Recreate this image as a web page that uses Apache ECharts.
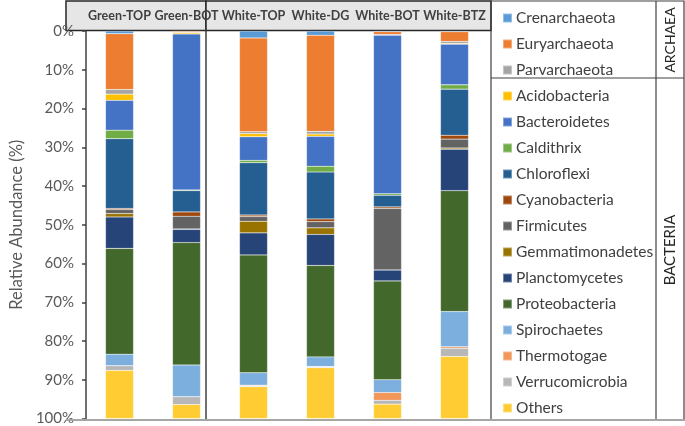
<!DOCTYPE html>
<html>
<head>
<meta charset="utf-8">
<script src="https://cdn.jsdelivr.net/npm/echarts@6/dist/echarts.min.js"></script>
<style>html,body{margin:0;padding:0;background:#fff;}#c{width:685px;height:426px;}</style>
</head>
<body>
<div id="c"></div>
<script>
var categories = ['Green-TOP', 'Green-BOT', 'White-TOP', 'White-DG', 'White-BOT', 'White-BTZ'];
var yTicks = [0, 10, 20, 30, 40, 50, 60, 70, 80, 90, 100];

var crenarchaeota    = [0.7, 0.1, 1.8, 1.1, 0.2, 0.2];
var euryarchaeota    = [14.4, 0.3, 24.2, 24.8, 0.7, 2.5];
var parvarchaeota    = [1.2, 0.1, 0.5, 0.7, 0.2, 0.5];
var acidobacteria    = [1.6, 0.3, 0.8, 0.6, 0.0, 0.2];
var bacteroidetes    = [7.7, 40.2, 6.1, 7.7, 40.9, 10.5];
var caldithrix       = [2.2, 0.2, 0.6, 1.5, 0.4, 1.1];
var chloroflexi      = [18.0, 5.5, 13.5, 12.1, 3.0, 11.9];
var cyanobacteria    = [0.3, 1.1, 0.4, 0.7, 0.4, 1.0];
var firmicutes       = [1.0, 3.3, 1.2, 1.6, 15.9, 2.3];
var gemmatimonadetes = [0.9, 0.1, 3.0, 1.7, 0.0, 0.3];
var planctomycetes   = [8.1, 3.4, 5.7, 8.0, 2.8, 10.7];
var proteobacteria   = [27.3, 31.6, 30.4, 23.6, 25.5, 31.2];
var spirochaetes     = [3.0, 8.2, 3.2, 2.5, 3.3, 9.1];
var thermotogae      = [0.0, 0.0, 0.2, 0.1, 2.0, 0.4];
var verrucomicrobia  = [1.2, 2.0, 0.2, 0.2, 1.0, 2.1];
var others           = [12.4, 3.6, 8.2, 13.1, 3.7, 16.0];

var seriesNames = ['Crenarchaeota', 'Euryarchaeota', 'Parvarchaeota', 'Acidobacteria', 'Bacteroidetes', 'Caldithrix', 'Chloroflexi', 'Cyanobacteria', 'Firmicutes', 'Gemmatimonadetes', 'Planctomycetes', 'Proteobacteria', 'Spirochaetes', 'Thermotogae', 'Verrucomicrobia', 'Others'];
var seriesData = [crenarchaeota, euryarchaeota, parvarchaeota, acidobacteria, bacteroidetes, caldithrix, chloroflexi, cyanobacteria, firmicutes, gemmatimonadetes, planctomycetes, proteobacteria, spirochaetes, thermotogae, verrucomicrobia, others];
var colors = ['#5B9BD5', '#ED7D31', '#A5A5A5', '#FFC000', '#4472C4', '#70AD47', '#255E91', '#9E480E', '#636363', '#997300', '#264478', '#43682B', '#7CAFDD', '#F1975A', '#B7B7B7', '#FFCD33'];

var series = seriesNames.map(function (n, i) {
  return {
    name: n, type: 'bar', stack: 'all', barWidth: 28,
    data: seriesData[i],
    itemStyle: { color: colors[i], borderColor: 'rgba(255,255,255,0.35)', borderWidth: 0.5 }
  };
});

var chart = echarts.init(document.getElementById('c'), null, { renderer: 'canvas' });
chart.setOption({
  animation: false,
  color: colors,
  grid: { left: 66, right: 197, top: 31, bottom: 6, containLabel: false },
  xAxis: {
    type: 'category', data: categories, position: 'top',
    axisLine: { show: false }, axisTick: { show: false },
    axisLabel: { interval: 0, margin: 9, fontFamily: 'Lato', fontWeight: 'bold', fontSize: 12.5, color: '#404040', hideOverlap: false }
  },
  yAxis: {
    type: 'value', inverse: true, min: 0, max: 100, interval: 10,
    axisLine: { show: true, lineStyle: { color: '#404040', width: 1.5 } },
    axisTick: { show: true, length: 4, lineStyle: { color: '#404040', width: 1.5 } },
    splitLine: { show: false },
    axisLabel: { formatter: '{value}%', fontFamily: 'Lato', fontSize: 15, color: '#595959', margin: 12 },
    name: 'Relative Abundance (%)', nameLocation: 'middle', nameGap: 54,
    nameTextStyle: { fontFamily: 'Lato', fontSize: 16.5, color: '#595959' }
  },
  legend: {
    orient: 'vertical', left: 497, top: 4, itemWidth: 9, itemHeight: 9, itemGap: 8,
    icon: 'rect', selectedMode: false, data: seriesNames,
    textStyle: { fontFamily: 'Lato', fontSize: 15.5, color: '#404040', lineHeight: 18, padding: [0, 0, 0, -1] }
  },
  graphic: [
    { type: 'rect', z: 0, shape: { x: 66, y: 1, width: 140, height: 29.5 }, style: { fill: '#E7E6E6', stroke: '#262626', lineWidth: 1.5 } },
    { type: 'rect', z: 0, shape: { x: 206, y: 1, width: 285, height: 29.5 }, style: { fill: '#E7E6E6', stroke: '#262626', lineWidth: 1.5 } },
    { type: 'line', z: 10, shape: { x1: 206, y1: 30, x2: 206, y2: 420 }, style: { stroke: '#404040', lineWidth: 1.5 } },
    { type: 'line', z: 10, shape: { x1: 66, y1: 420, x2: 685, y2: 420 }, style: { stroke: '#A6A6A6', lineWidth: 2 } },
    { type: 'rect', z: 0, shape: { x: 491, y: 1, width: 193, height: 419 }, style: { fill: 'none', stroke: '#404040', lineWidth: 1.2 } },
    { type: 'line', z: 0, shape: { x1: 656, y1: 1, x2: 656, y2: 420 }, style: { stroke: '#404040', lineWidth: 1.2 } },
    { type: 'line', z: 0, shape: { x1: 491, y1: 78, x2: 684, y2: 78 }, style: { stroke: '#404040', lineWidth: 1.2 } },
    { type: 'text', z: 5, x: 670, y: 40, rotation: Math.PI / 2, style: { text: 'ARCHAEA', font: '14px Lato', fill: '#262626', align: 'center', verticalAlign: 'middle' } },
    { type: 'text', z: 5, x: 670, y: 250, rotation: Math.PI / 2, style: { text: 'BACTERIA', font: '15px Lato', fill: '#262626', align: 'center', verticalAlign: 'middle' } }
  ],
  series: series
});
</script>
</body>
</html>
